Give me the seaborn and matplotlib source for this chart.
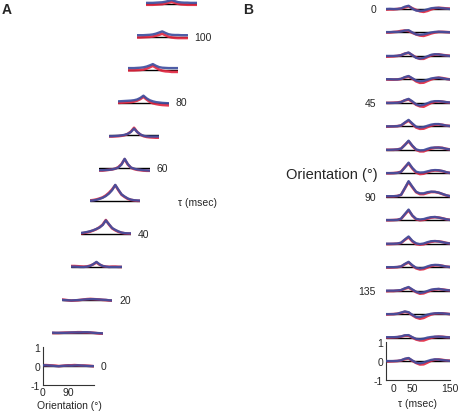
import numpy as np
import matplotlib
matplotlib.use("Agg")
import matplotlib.pyplot as plt
import seaborn as sns

sns.set_style("white")
plt.rcParams['font.family'] = ['Liberation Sans', 'DejaVu Sans']

# ---------------- Panel A: orientation tuning at successive delays ----------------
orientations = [0, 11.25, 22.5, 33.75, 45, 56.25, 67.5, 78.75, 90, 101.25, 112.5, 123.75, 135, 146.25, 157.5, 168.75, 180]
delays_a = [0, 10, 20, 30, 40, 50, 60, 70, 80, 90, 100, 110]
delay_labels = ["0", "20", "40", "60", "80", "100"]

tuning_blue = [
    [0.02, 0.02, 0.01, 0.0, -0.02, -0.03, -0.01, 0.0, 0.01, 0.0, 0.01, 0.02, 0.01, 0.0, -0.01, -0.02, -0.02],
    [0.01, 0.0, 0.0, 0.0, 0.0, 0.01, 0.02, 0.02, 0.02, 0.02, 0.03, 0.03, 0.02, 0.0, -0.01, -0.02, -0.03],
    [0.0, -0.01, -0.02, -0.03, -0.02, -0.01, 0.0, 0.02, 0.03, 0.04, 0.04, 0.03, 0.02, 0.01, 0.0, -0.02, -0.03],
    [0.02, 0.02, 0.01, 0.0, 0.0, 0.02, 0.06, 0.15, 0.27, 0.14, 0.05, 0.02, 0.0, 0.0, 0.0, 0.0, 0.01],
    [0.06, 0.08, 0.11, 0.15, 0.20, 0.27, 0.35, 0.48, 0.72, 0.52, 0.32, 0.22, 0.14, 0.08, 0.05, 0.04, 0.04],
    [0.02, 0.04, 0.07, 0.12, 0.18, 0.27, 0.40, 0.58, 0.86, 0.60, 0.36, 0.24, 0.14, 0.08, 0.05, 0.04, 0.03],
    [-0.10, -0.10, -0.09, -0.08, -0.06, -0.02, 0.04, 0.20, 0.50, 0.22, 0.04, -0.02, -0.06, -0.08, -0.10, -0.11, -0.12],
    [-0.04, -0.04, -0.03, -0.02, 0.0, 0.03, 0.08, 0.18, 0.36, 0.18, 0.05, -0.02, -0.05, -0.06, -0.06, -0.06, -0.06],
    [0.06, 0.07, 0.08, 0.09, 0.10, 0.12, 0.16, 0.24, 0.36, 0.22, 0.12, 0.06, 0.02, 0.0, -0.02, -0.03, -0.04],
    [0.08, 0.08, 0.08, 0.09, 0.10, 0.12, 0.16, 0.22, 0.29, 0.20, 0.13, 0.10, 0.09, 0.08, 0.08, 0.08, 0.08],
    [0.08, 0.08, 0.08, 0.09, 0.10, 0.12, 0.16, 0.22, 0.28, 0.20, 0.13, 0.10, 0.09, 0.09, 0.08, 0.08, 0.08],
    [0.05, 0.05, 0.05, 0.06, 0.07, 0.08, 0.11, 0.15, 0.20, 0.14, 0.09, 0.07, 0.06, 0.06, 0.05, 0.05, 0.05],
]
tuning_red = [
    [0.03, 0.03, 0.02, 0.01, 0.0, -0.02, -0.01, 0.01, 0.02, 0.02, 0.03, 0.02, 0.01, 0.01, 0.0, -0.01, -0.03],
    [-0.01, -0.01, -0.01, 0.0, 0.01, 0.01, 0.01, 0.02, 0.03, 0.03, 0.02, 0.02, 0.01, 0.0, -0.02, -0.04, -0.04],
    [0.02, 0.0, -0.02, -0.04, -0.03, -0.02, 0.0, 0.02, 0.04, 0.05, 0.04, 0.03, 0.02, 0.0, -0.01, -0.03, -0.04],
    [0.05, 0.05, 0.04, 0.03, 0.02, 0.03, 0.07, 0.14, 0.24, 0.12, 0.05, 0.02, 0.01, 0.02, 0.02, 0.01, 0.0],
    [0.03, 0.06, 0.09, 0.13, 0.19, 0.26, 0.36, 0.50, 0.74, 0.50, 0.30, 0.20, 0.12, 0.07, 0.04, 0.03, 0.02],
    [0.04, 0.06, 0.09, 0.14, 0.20, 0.30, 0.44, 0.62, 0.84, 0.58, 0.34, 0.22, 0.12, 0.07, 0.04, 0.02, 0.02],
    [-0.12, -0.12, -0.10, -0.08, -0.06, -0.02, 0.06, 0.22, 0.48, 0.20, 0.03, -0.04, -0.08, -0.10, -0.12, -0.13, -0.13],
    [-0.06, -0.06, -0.05, -0.04, -0.02, 0.01, 0.08, 0.20, 0.40, 0.18, 0.04, -0.04, -0.08, -0.10, -0.11, -0.12, -0.12],
    [-0.02, -0.01, 0.0, 0.01, 0.02, 0.05, 0.10, 0.18, 0.30, 0.16, 0.04, -0.04, -0.08, -0.11, -0.13, -0.14, -0.15],
    [-0.04, -0.04, -0.04, -0.03, -0.02, 0.0, 0.05, 0.12, 0.20, 0.10, 0.0, -0.06, -0.09, -0.10, -0.12, -0.12, -0.12],
    [-0.04, -0.04, -0.03, -0.02, -0.01, 0.01, 0.05, 0.10, 0.16, 0.08, 0.0, -0.04, -0.06, -0.07, -0.07, -0.07, -0.07],
    [-0.05, -0.05, -0.05, -0.04, -0.03, -0.02, 0.02, 0.06, 0.10, 0.05, 0.0, -0.03, -0.04, -0.05, -0.05, -0.05, -0.05],
]

# ---------------- Panel B: time course at each orientation ----------------
taus = [-20, -10, 0, 10, 20, 30, 40, 50, 60, 70, 80, 90, 100, 110, 120, 130, 140, 150]
orientation_labels = ["0", "45", "90", "135"]

time_blue = [
    [0.0, 0.01, 0.0, 0.0, 0.03, 0.12, 0.17, 0.02, -0.08, -0.10, -0.08, -0.02, 0.04, 0.06, 0.06, 0.04, 0.02, 0.0],
    [0.02, 0.02, 0.03, 0.03, 0.05, 0.10, 0.12, 0.0, -0.10, -0.12, -0.10, -0.05, 0.0, 0.03, 0.04, 0.03, 0.02, 0.01],
    [0.0, 0.0, 0.0, 0.01, 0.04, 0.12, 0.18, 0.04, -0.10, -0.14, -0.10, -0.02, 0.06, 0.09, 0.08, 0.05, 0.02, 0.0],
    [0.01, 0.01, 0.0, 0.0, 0.03, 0.12, 0.18, 0.06, -0.06, -0.10, -0.08, -0.02, 0.05, 0.08, 0.09, 0.06, 0.02, 0.0],
    [0.0, 0.0, 0.0, 0.01, 0.04, 0.14, 0.21, 0.08, -0.08, -0.14, -0.10, -0.02, 0.06, 0.09, 0.09, 0.07, 0.04, 0.02],
    [0.0, 0.0, 0.0, 0.01, 0.05, 0.20, 0.34, 0.15, -0.02, -0.06, -0.04, 0.03, 0.09, 0.12, 0.12, 0.08, 0.04, 0.02],
    [0.0, 0.0, 0.01, 0.02, 0.06, 0.25, 0.48, 0.22, 0.02, -0.03, -0.02, 0.05, 0.11, 0.12, 0.12, 0.10, 0.05, 0.02],
    [0.01, 0.01, 0.01, 0.02, 0.08, 0.30, 0.56, 0.28, 0.08, 0.04, 0.05, 0.10, 0.15, 0.17, 0.16, 0.12, 0.06, 0.02],
    [0.03, 0.03, 0.03, 0.04, 0.10, 0.45, 0.82, 0.53, 0.26, 0.18, 0.18, 0.24, 0.27, 0.26, 0.22, 0.15, 0.08, 0.03],
    [0.01, 0.01, 0.01, 0.02, 0.08, 0.32, 0.56, 0.25, 0.07, 0.04, 0.06, 0.12, 0.16, 0.17, 0.14, 0.10, 0.05, 0.02],
    [0.0, 0.0, 0.0, 0.01, 0.05, 0.22, 0.38, 0.15, 0.02, -0.02, 0.01, 0.08, 0.13, 0.14, 0.12, 0.08, 0.04, 0.01],
    [0.0, 0.0, 0.0, 0.01, 0.04, 0.17, 0.28, 0.10, -0.03, -0.07, -0.04, 0.04, 0.10, 0.12, 0.11, 0.07, 0.03, 0.01],
    [0.0, 0.0, 0.0, 0.01, 0.03, 0.12, 0.19, 0.06, -0.06, -0.12, -0.09, -0.02, 0.05, 0.08, 0.09, 0.06, 0.03, 0.01],
    [0.0, 0.0, 0.0, 0.02, 0.08, 0.14, 0.10, -0.04, -0.15, -0.16, -0.10, -0.03, 0.02, 0.04, 0.05, 0.04, 0.02, 0.0],
    [0.02, 0.02, 0.02, 0.03, 0.06, 0.12, 0.13, 0.02, -0.07, -0.09, -0.06, 0.0, 0.03, 0.05, 0.05, 0.04, 0.02, 0.01],
    [0.0, 0.0, 0.0, 0.01, 0.04, 0.12, 0.16, 0.03, -0.09, -0.12, -0.08, 0.0, 0.06, 0.09, 0.08, 0.05, 0.03, 0.01],
]
time_red = [
    [-0.03, -0.02, -0.02, 0.0, 0.02, 0.08, 0.14, 0.04, -0.05, -0.12, -0.15, -0.10, -0.02, 0.04, 0.06, 0.05, 0.03, 0.02],
    [0.0, 0.0, 0.02, 0.04, 0.08, 0.10, 0.08, -0.02, -0.10, -0.16, -0.18, -0.12, -0.05, 0.0, 0.03, 0.03, 0.02, 0.01],
    [-0.04, -0.03, -0.02, 0.0, 0.04, 0.12, 0.16, 0.04, -0.08, -0.15, -0.15, -0.06, 0.03, 0.07, 0.08, 0.05, 0.03, 0.01],
    [0.0, -0.01, -0.01, 0.0, 0.02, 0.10, 0.15, 0.04, -0.10, -0.18, -0.17, -0.08, 0.0, 0.06, 0.09, 0.07, 0.03, 0.0],
    [0.0, 0.0, 0.01, 0.02, 0.05, 0.13, 0.18, 0.05, -0.10, -0.18, -0.20, -0.10, 0.0, 0.06, 0.08, 0.06, 0.03, 0.01],
    [-0.02, -0.01, 0.0, 0.01, 0.04, 0.18, 0.30, 0.12, -0.06, -0.13, -0.12, -0.04, 0.04, 0.09, 0.10, 0.08, 0.04, 0.02],
    [0.0, 0.0, 0.0, 0.02, 0.06, 0.26, 0.45, 0.20, 0.0, -0.08, -0.08, 0.0, 0.07, 0.11, 0.12, 0.10, 0.05, 0.02],
    [0.0, 0.0, 0.01, 0.03, 0.08, 0.32, 0.52, 0.25, 0.04, -0.04, -0.02, 0.06, 0.12, 0.15, 0.14, 0.11, 0.05, 0.02],
    [0.02, 0.02, 0.02, 0.04, 0.10, 0.44, 0.78, 0.50, 0.24, 0.14, 0.14, 0.20, 0.25, 0.25, 0.21, 0.14, 0.07, 0.03],
    [0.0, 0.0, 0.01, 0.02, 0.07, 0.30, 0.52, 0.24, 0.05, 0.0, 0.02, 0.08, 0.14, 0.16, 0.14, 0.10, 0.05, 0.02],
    [-0.02, -0.02, -0.01, 0.0, 0.04, 0.20, 0.34, 0.12, -0.02, -0.05, -0.03, 0.04, 0.10, 0.13, 0.12, 0.09, 0.04, 0.01],
    [-0.02, -0.02, -0.01, 0.0, 0.03, 0.15, 0.25, 0.08, -0.06, -0.12, -0.10, -0.02, 0.06, 0.10, 0.10, 0.07, 0.03, 0.01],
    [-0.03, -0.02, -0.02, 0.0, 0.02, 0.10, 0.16, 0.04, -0.08, -0.16, -0.14, -0.06, 0.02, 0.06, 0.08, 0.06, 0.03, 0.01],
    [-0.02, -0.01, 0.0, 0.02, 0.06, 0.12, 0.08, -0.06, -0.18, -0.24, -0.20, -0.10, -0.02, 0.03, 0.04, 0.04, 0.02, 0.0],
    [0.0, 0.0, 0.01, 0.02, 0.05, 0.10, 0.10, 0.0, -0.10, -0.15, -0.15, -0.08, -0.01, 0.03, 0.05, 0.04, 0.02, 0.01],
    [-0.03, -0.02, -0.01, 0.0, 0.03, 0.10, 0.14, 0.01, -0.10, -0.18, -0.17, -0.08, 0.02, 0.07, 0.08, 0.06, 0.03, 0.02],
]

# ---------------- Layout helpers ----------------
W, H = 458, 414
fig = plt.figure(figsize=(W / 100, H / 100), dpi=100)
RED = "#e3263f"
BLUE = "#3f4f9f"
FS = 7.5


def add_px_axes(x0, x1, yzero, half=19):
    return fig.add_axes([x0 / W, 1 - (yzero + half) / H, (x1 - x0) / W, 2 * half / H])


def fig_text(x, y, s, **kw):
    fig.text(x / W, 1 - y / H, s, **kw)


def draw_pair(ax, x, red, blue):
    ax.axhline(0, color="black", lw=1.0, zorder=1)
    sns.lineplot(x=x, y=red, ax=ax, color=RED, lw=1.9, alpha=0.9, zorder=2)
    sns.lineplot(x=x, y=blue, ax=ax, color=BLUE, lw=1.7, alpha=0.92, zorder=3)
    ax.set_ylim(-1, 1)
    ax.patch.set_alpha(0)


def style_bottom(ax, xticks):
    sns.despine(ax=ax)
    for s in ("left", "bottom"):
        ax.spines[s].set_linewidth(0.8)
        ax.spines[s].set_color("#333333")
    ax.set_yticks([-1, 0, 1])
    ax.set_yticklabels(["-1", "0", "1"])
    ax.set_xticks(xticks)
    ax.tick_params(length=0, pad=2, labelsize=FS)
    ax.set_xlabel("")
    ax.set_ylabel("")


# ---------------- Panel A ----------------
for i, d in enumerate(delays_a):
    x0 = 43 + 9.4 * i
    x1 = x0 + 50.5
    y0 = 366.7 - 32.9 * i
    ax = add_px_axes(x0, x1, y0)
    draw_pair(ax, orientations, tuning_red[i], tuning_blue[i])
    ax.set_xlim(0, 180)
    if i == 0:
        style_bottom(ax, [0, 90])
    else:
        ax.axis("off")
    if str(d) in delay_labels:
        fig_text(x1 + 7, y0, str(d), ha="left", va="center", fontsize=FS)

fig_text(69, 406, "Orientation (°)", ha="center", va="center", fontsize=FS)
fig_text(178, 203, "τ (msec)", ha="left", va="center", fontsize=FS)
fig_text(2, 10, "A", ha="left", va="center", fontsize=10, fontweight="bold")

# ---------------- Panel B ----------------
for k in range(len(time_blue)):
    y0 = 10 + 23.47 * k
    ax = add_px_axes(386, 450, y0)
    draw_pair(ax, taus, time_red[k], time_blue[k])
    ax.set_xlim(-20, 150)
    if k == len(time_blue) - 1:
        style_bottom(ax, [0, 50, 150])
    else:
        ax.axis("off")
    if k % 4 == 0:
        fig_text(376, y0, orientation_labels[k // 4], ha="right", va="center", fontsize=FS)

fig_text(378, 175, "Orientation (°)", ha="right", va="center", fontsize=10.5)
fig_text(418, 404, "τ (msec)", ha="center", va="center", fontsize=FS)
fig_text(243, 10, "B", ha="left", va="center", fontsize=10, fontweight="bold")

fig.savefig("out.png", dpi=100)
